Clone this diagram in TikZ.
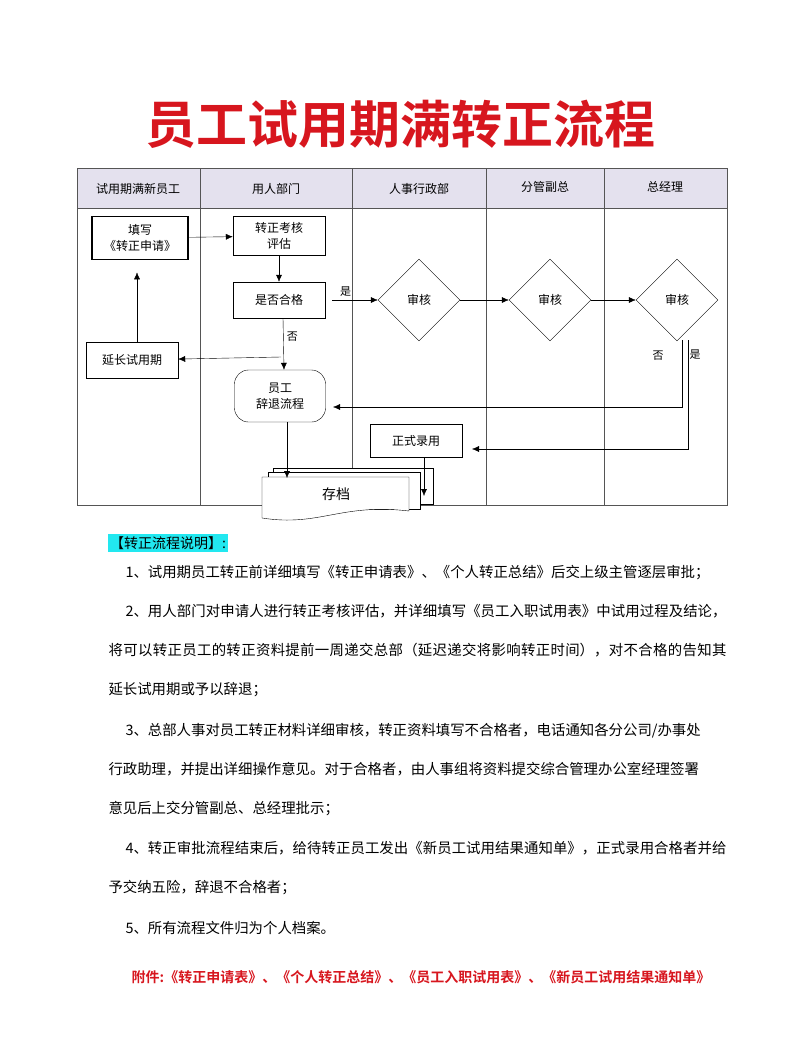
\documentclass[tikz,border=0pt]{standalone}
\usepackage{fontspec}
\setmainfont{Noto Sans CJK SC}
\newfontfamily\cjkbold{Noto Sans CJK SC Bold}
\usetikzlibrary{shapes.geometric, positioning, arrows.meta}
\definecolor{TitleRed}{HTML}{D7161E}
\definecolor{HeadFill}{HTML}{E4E1EE}
\definecolor{MarkCyan}{HTML}{22E8F0}
\definecolor{LineGray}{HTML}{555555}
\XeTeXlinebreaklocale "zh"
\XeTeXlinebreakskip=0pt plus 1pt

\begin{document}
\begin{tikzpicture}[
            x=1pt, y=-1pt,
            proc/.style={draw=black, minimum width=92pt, minimum height=36pt, align=center, font=\fontsize{12}{16}\selectfont, fill=white},
            check/.style={draw=black, diamond, minimum width=82pt, minimum height=82pt, inner sep=0pt, font=\fontsize{12}{14}\selectfont},
            head/.style={font=\fontsize{12}{14}\selectfont},
            arrow/.style={-{Latex[length=7pt,width=6pt]}, thin, black},
            para/.style={anchor=north west, text width=618pt, align=justify, font=\fontsize{14.4}{39}\selectfont}
        ]
            \useasboundingbox (0,0) rectangle (800,1044);
            % title
            \node[text=TitleRed, font=\cjkbold\fontsize{51}{55}\selectfont] (title) at (400,124) {员工试用期满转正流程};
            % lanes
            \fill[HeadFill] (77,168) rectangle (727,208);
            \draw[LineGray] (77,168) rectangle (727,505);
            \draw[LineGray] (77,208) -- (727,208);
            \foreach \x in {200,352,486,604} \draw[LineGray] (\x,168) -- (\x,505);
            \node[head] (h1) at (138,189) {试用期满新员工};
            \node[head] (h2) at (276,189) {用人部门};
            \node[head] (h3) at (419,189) {人事行政部};
            \node[head] (h4) at (545,187) {分管副总};
            \node[head] (h5) at (665,187) {总经理};
            % steps
            \node[proc, line width=1.8pt, minimum width=96pt, minimum height=43pt] (apply) at (140,238) {填写\\《转正申请》};
            \node[proc, minimum height=39pt] (assess) at (279,236) {转正考核\\评估};
            \node[proc] (pass) at (279,300) {是否合格};
            \node[check] (hr) at (419,300) {审核};
            \node[check] (vp) at (550,300) {审核};
            \node[check] (gm) at (677,300) {审核};
            \node[proc] (extend) at (132,360) {延长试用期};
            \node[proc, rounded corners=14pt, minimum width=91pt, minimum height=52pt] (quit) at (280,396) {员工\\辞退流程};
            \node[proc, minimum height=33pt] (hire) at (416,441) {正式录用};
            % archive stack
            \draw[fill=white] (273,468) rectangle (433,504);
            \draw[fill=white] (268,472) rectangle (420,509);
            \draw[fill=white] (262,477) -- (409,477) -- (409,511) .. controls (340,503) and (320,527) .. (262,518) -- cycle;
            \node[font=\fontsize{14}{16}\selectfont] (store) at (336,494) {存档};
            \coordinate (storeL) at (287,478);
            \coordinate (storeR) at (424,496);
            % connectors
            \coordinate (yesStart) at (332,300);
            \coordinate (noSplit) at (281,357);
            \coordinate (gmNo) at (682,340);
            \coordinate (gmYes) at (688,340);
            \coordinate (noTurn) at (682,407);
            \coordinate (yesTurn) at (688,449);
            \coordinate (quitIn) at (333,407);
            \coordinate (hireIn) at (472,449);
            \draw[arrow] (apply) -- (assess);
            \draw[arrow] (assess) -- (pass);
            \draw[arrow] (yesStart) -- node[pos=0.3, above, font=\fontsize{11}{13}\selectfont]{是} (hr.west);
            \draw[arrow] (hr) -- (vp);
            \draw[arrow] (vp) -- (gm);
            \draw[arrow] ([xshift=4pt]pass.south) -- node[pos=0.35, right, font=\fontsize{11}{13}\selectfont]{否} ([xshift=4pt]quit.north);
            \draw[arrow] (noSplit) -- (extend);
            \draw[arrow] ([xshift=5pt]extend.north) -- ([xshift=-3pt,yshift=-12pt]apply.south);
            \draw[arrow] (gmNo) -- (noTurn) -- (quitIn);
            \draw[arrow] (gmYes) -- (yesTurn) -- (hireIn);
            \node[font=\fontsize{11}{13}\selectfont] (noLab) at (658,356) {否};
            \node[font=\fontsize{11}{13}\selectfont] (yesLab) at (695,355) {是};
            \draw[arrow] ([xshift=8pt]hire.south) -- (storeR);
            \draw[arrow] ([xshift=7pt]quit.south) -- (storeL);
            % notes
            \node[fill=MarkCyan, inner sep=2pt, font=\fontsize{14}{16}\selectfont] (notehead) at (168,543) {【转正流程说明】:};
            \node[para] (p1) at (105,562) {\hspace*{17pt}1、试用期员工转正前详细填写《转正申请表》、《个人转正总结》后交上级主管逐层审批；};
            \node[para] (p2) at (105,601) {\hspace*{17pt}2、用人部门对申请人进行转正考核评估，并详细填写《员工入职试用表》中试用过程及结论，将可以转正员工的转正资料提前一周递交总部（延迟递交将影响转正时间），对不合格的告知其延长试用期或予以辞退；};
            \node[para] (p3) at (105,720) {\hspace*{17pt}3、总部人事对员工转正材料详细审核，转正资料填写不合格者，电话通知各分公司/办事处\\行政助理，并提出详细操作意见。对于合格者，由人事组将资料提交综合管理办公室经理签署\\意见后上交分管副总、总经理批示；};
            \node[para] (p4) at (105,838) {\hspace*{17pt}4、转正审批流程结束后，给待转正员工发出《新员工试用结果通知单》，正式录用合格者并给予交纳五险，辞退不合格者；};
            \node[para] (p5) at (105,918) {\hspace*{17pt}5、所有流程文件归为个人档案。};
            \node[text=TitleRed, font=\cjkbold\fontsize{14}{16}\selectfont] (annex) at (421,977) {附件:《转正申请表》、《个人转正总结》、《员工入职试用表》、《新员工试用结果通知单》};
        \end{tikzpicture}
\end{document}
